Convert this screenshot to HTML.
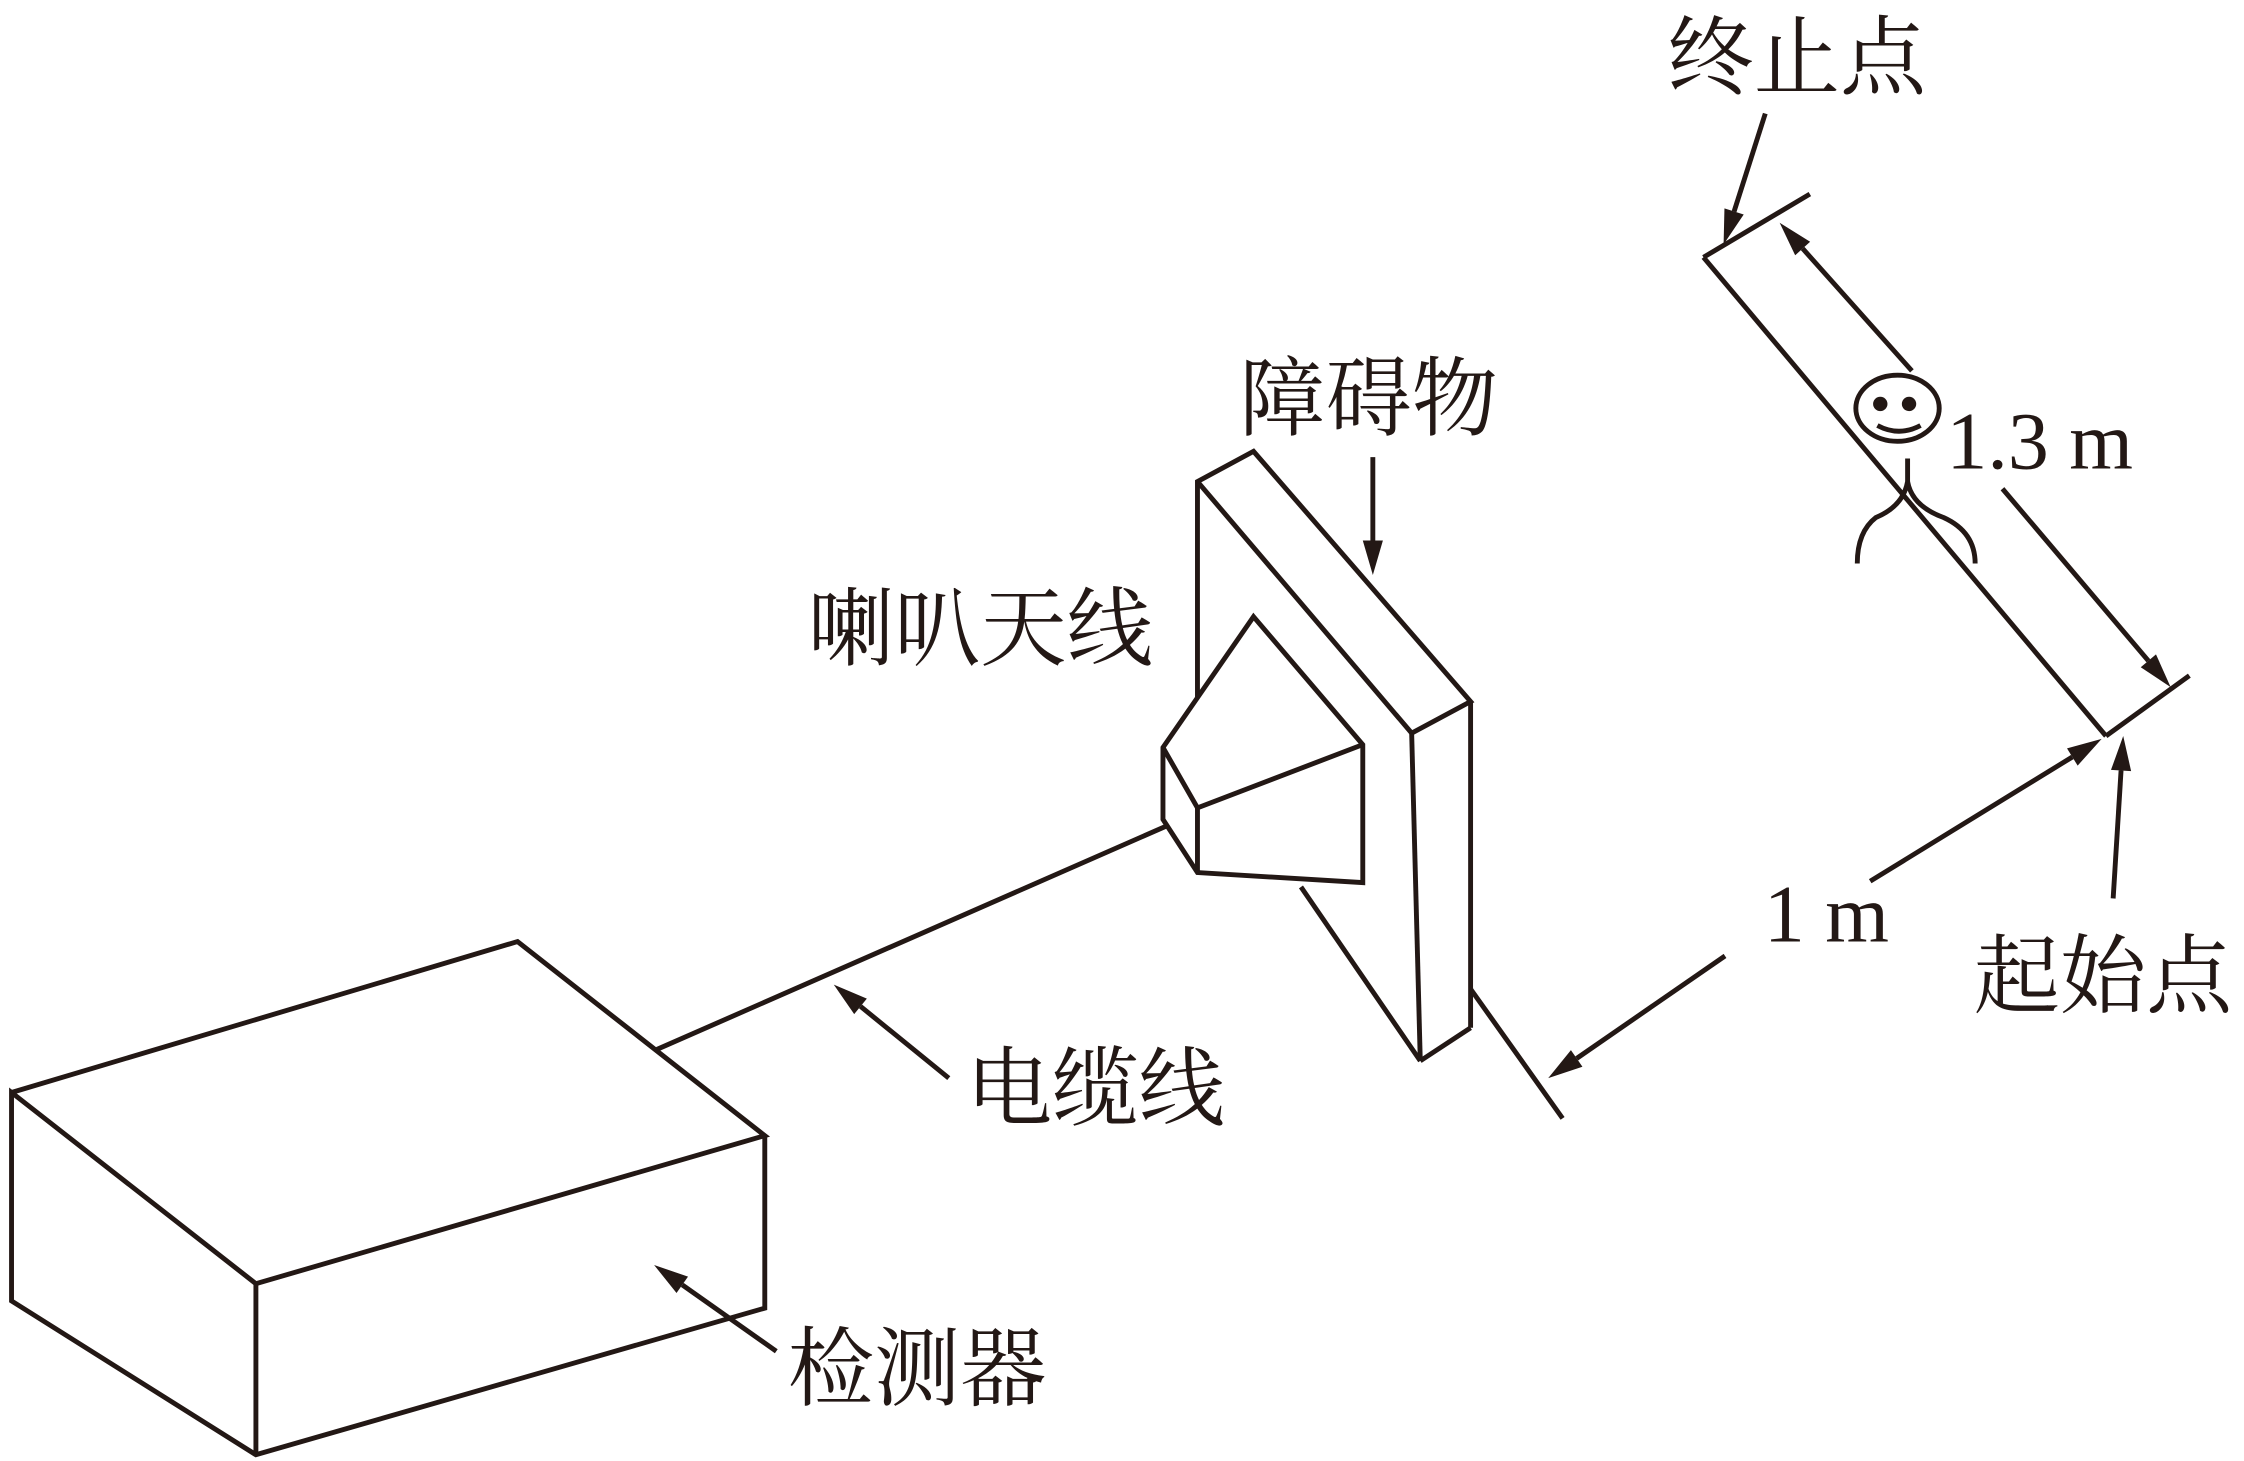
<!DOCTYPE html>
<html><head><meta charset="utf-8"><style>
html,body{margin:0;padding:0;background:#fff;}
svg{display:block;}
text{font-family:"Liberation Serif","Noto Serif CJK SC","Noto Sans CJK SC",serif;fill:#231815;}
</style></head><body>
<svg width="2244" height="1461" viewBox="0 0 1561 1016.35" xmlns="http://www.w3.org/2000/svg">
<g stroke="#231815" stroke-width="3.4" fill="none" stroke-linejoin="miter" stroke-linecap="butt">
<polyline points="8,760 360,655 532,790 178,893 8,760 8,905 178,1012 532,910 532,790"/>
<line x1="178" y1="893" x2="178" y2="1012"/>
<line x1="457" y1="730" x2="822" y2="570"/>
<polyline points="833,520 833,335 872,314 1023,488 982,510 833,335"/>
<line x1="982" y1="510" x2="988" y2="738"/>
<line x1="1023" y1="488" x2="1023" y2="715"/>
<line x1="988" y1="738" x2="1023" y2="715"/>
<line x1="905" y1="617" x2="988" y2="738"/>
<line x1="1023" y1="688" x2="1087" y2="778"/>
<polygon points="872,429 948,518 948,614 833,607 809,570 809,520" fill="#fff"/>
<polyline points="809,520 833,562 948,518"/>
<line x1="833" y1="562" x2="833" y2="607"/>
<line x1="1185" y1="179" x2="1465" y2="512"/>
<line x1="1185" y1="179" x2="1259" y2="135"/>
<line x1="1465" y1="512" x2="1523" y2="470"/>
<line x1="660" y1="750" x2="598.6" y2="700.1"/>
<line x1="955" y1="318" x2="955" y2="378"/>
<line x1="540" y1="940" x2="474.6" y2="893.8"/>
<line x1="1228" y1="79" x2="1206.3" y2="147.1"/>
<line x1="1330" y1="258" x2="1254" y2="172.9"/>
<line x1="1393" y1="340" x2="1494.5" y2="459.7"/>
<line x1="1301" y1="613" x2="1441.6" y2="526.6"/>
<line x1="1200" y1="665" x2="1096.8" y2="736.3"/>
<line x1="1470" y1="625" x2="1475.5" y2="536"/>
<ellipse cx="1320" cy="284" rx="29" ry="23"/>
<path d="M1306,296 Q1321,304 1336,296"/>
<path d="M1327,319 L1327,335 Q1324,352 1305,360 Q1292,370 1292,392"/>
<path d="M1327,335 Q1330,352 1352,360 Q1374,370 1374,392"/>
</g>
<g fill="#231815">
<polygon points="580,685 603.0,694.7 594.2,705.5"/>
<polygon points="955,400 948,376 962,376"/>
<polygon points="455,880 478.6,888.1 470.6,899.5"/>
<polygon points="1199,170 1213.0,149.2 1199.6,145.0"/>
<polygon points="1238,155 1259.2,168.2 1248.8,177.6"/>
<polygon points="1510,478 1499.8,455.2 1489.2,464.2"/>
<polygon points="1462,514 1445.3,532.6 1437.9,520.6"/>
<polygon points="1077,750 1100.8,742.1 1092.8,730.5"/>
<polygon points="1477,512 1482.5,536.4 1468.5,535.6"/>
<circle cx="1308" cy="281" r="5"/>
<circle cx="1328" cy="281" r="5"/>
</g>
<g font-size="60">
<text x="1160" y="61">终止点</text>
<text x="862" y="298">障碍物</text>
<text x="562" y="458">喇叭天线</text>
<text x="672" y="778">电缆线</text>
<text x="548" y="973">检测器</text>
<text x="1373" y="700">起始点</text>
</g>
<g font-size="57">
<text x="1354" y="326">1.3 m</text>
<text x="1227" y="655">1 m</text>
</g>
</svg>
</body></html>
